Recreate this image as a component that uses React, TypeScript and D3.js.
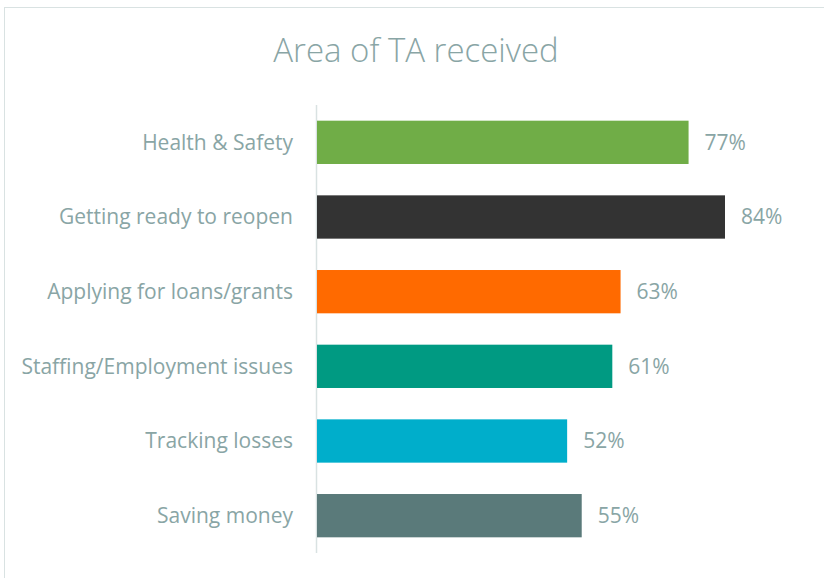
import React from "react";
import * as d3 from "d3";

const categories = [
  "Health & Safety",
  "Getting ready to reopen",
  "Applying for loans/grants",
  "Staffing/Employment issues",
  "Tracking losses",
  "Saving money",
];
const values = [76.5, 84, 62.5, 60.8, 51.5, 54.5];
const colors = ["#70AD47", "#333333", "#FF6A00", "#009A82", "#00AECB", "#5A7A7A"];
const title = "Area of TA received";

const W = 824;
const H = 578;
const FONT = "'Open Sans', 'Noto Sans', sans-serif";
const TEXT = "#89A5A5";

export default function App() {
  const x0 = 317;
  const y0 = 105;
  const y1 = 553;
  const x = d3.scaleLinear().domain([0, 84]).range([x0, 725]);
  const y = d3.scaleBand<string>().domain(categories).range([y0, y1]).paddingInner(0.42).paddingOuter(0.21);
  return (
    <svg width={W} height={H} style={{ position: "absolute", left: 0, top: 0, background: "#fff" }}>
      <rect x={4.5} y={7.5} width={W + 10} height={H + 10} fill="#fff" stroke="#D9E2E2" strokeWidth={1} />
      <text x={416} y={62} textAnchor="middle" fontFamily={FONT} fontSize={33} fill={TEXT} fontWeight={300}>
        {title}
      </text>
      <line x1={x0 - 0.5} x2={x0 - 0.5} y1={y0} y2={y1} stroke="#D9E2E2" strokeWidth={1.5} />
      {categories.map((c, i) => {
        const by = y(c)!;
        const bh = y.bandwidth();
        return (
          <g key={c}>
            <rect x={x(0)} y={by} width={x(values[i]) - x(0)} height={bh} fill={colors[i]} />
            <text x={x0 - 24} y={by + bh / 2} dy="0.35em" textAnchor="end" fontFamily={FONT} fontSize={21} fill={TEXT}>
              {c}
            </text>
            <text x={x(values[i]) + 16} y={by + bh / 2} dy="0.35em" textAnchor="start" fontFamily={FONT} fontSize={21} fill={TEXT}>
              {d3.format(".0f")(values[i]) + "%"}
            </text>
          </g>
        );
      })}
    </svg>
  );
}
